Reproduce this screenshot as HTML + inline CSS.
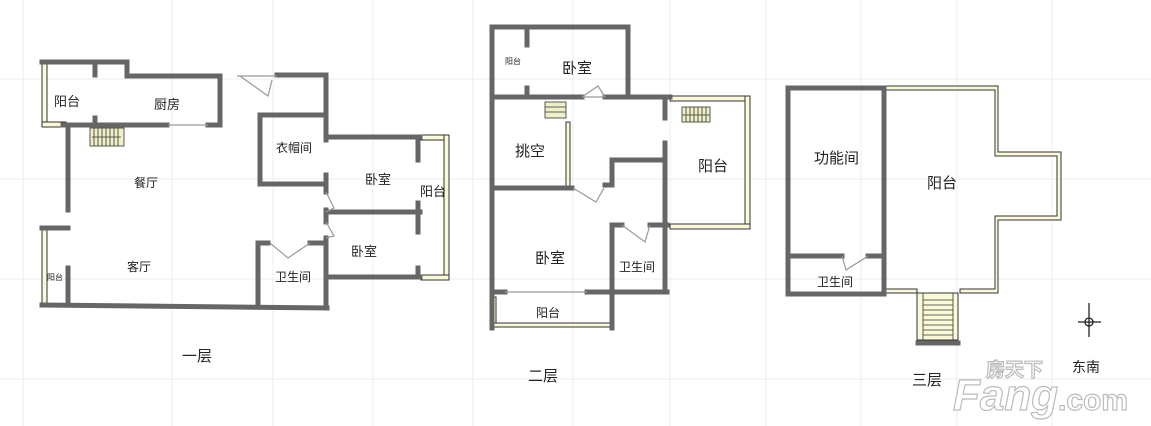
<!DOCTYPE html>
<html><head><meta charset="utf-8"><style>
html,body{margin:0;padding:0;background:#fff;}
svg{display:block;}
text{font-family:"Liberation Sans","Noto Sans CJK SC",sans-serif;fill:#222;}
</style></head><body>
<svg width="1151" height="426" viewBox="0 0 1151 426" xmlns="http://www.w3.org/2000/svg">
<g stroke="#ececec" stroke-width="1">
<line x1="23" y1="0" x2="23" y2="426"/><line x1="172" y1="0" x2="172" y2="426"/><line x1="273" y1="0" x2="273" y2="426"/><line x1="373" y1="0" x2="373" y2="426"/><line x1="473" y1="0" x2="473" y2="426"/><line x1="573" y1="0" x2="573" y2="426"/><line x1="670" y1="0" x2="670" y2="426"/><line x1="766" y1="0" x2="766" y2="426"/><line x1="861" y1="0" x2="861" y2="426"/><line x1="957" y1="0" x2="957" y2="426"/><line x1="1052" y1="0" x2="1052" y2="426"/>
<line x1="0" y1="79" x2="1151" y2="79"/><line x1="0" y1="179" x2="1151" y2="179"/><line x1="0" y1="279" x2="1151" y2="279"/><line x1="0" y1="379" x2="1151" y2="379"/>
</g>

<!-- FLOOR 1 -->
<g fill="#fafad8" stroke="#333" stroke-width="1">
<rect x="42" y="64" width="5" height="60"/><rect x="42" y="122" width="24" height="5"/>
<rect x="42" y="230" width="5" height="73"/>
<rect x="421" y="135" width="28" height="5"/><rect x="444" y="135" width="5" height="145"/><rect x="421" y="275" width="28" height="5"/>
</g>
<g fill="none" stroke="#666" stroke-width="5" stroke-linecap="square">
<polyline points="42,62 127,62 127,76 220,76 220,125"/>
<line x1="63" y1="125" x2="167" y2="125"/><line x1="208" y1="125" x2="220" y2="125"/>
<line x1="95" y1="62" x2="95" y2="75"/><line x1="95" y1="118" x2="95" y2="125"/>
<line x1="68" y1="125" x2="68" y2="210"/><line x1="68" y1="268" x2="68" y2="305"/>
<polyline points="42,228 68,228"/>
<polyline points="42,305 327,308"/>
<line x1="277" y1="75" x2="326" y2="75"/>
<line x1="326" y1="75" x2="326" y2="140"/>
<polyline points="326,115 260,115 260,184 326,184"/>
<line x1="326" y1="175" x2="326" y2="192"/>
<line x1="326" y1="210" x2="326" y2="222"/>
<line x1="326" y1="238" x2="326" y2="308"/>
<line x1="326" y1="137" x2="420" y2="137"/>
<line x1="326" y1="212" x2="420" y2="212"/>
<line x1="326" y1="277" x2="420" y2="277"/>
<line x1="418" y1="140" x2="418" y2="160"/><line x1="418" y1="203" x2="418" y2="232"/><line x1="418" y1="268" x2="418" y2="277"/>
<polyline points="258,305 258,243 268,243"/>
<line x1="310" y1="243" x2="326" y2="243"/>
</g>
<g stroke="#999" stroke-width="1.2" fill="none">
<line x1="237" y1="76" x2="277" y2="76"/><polyline points="240,76 268,96 272,80"/>
<line x1="168" y1="125" x2="208" y2="125"/>
<polyline points="270,243 288,258 310,243"/>
<polyline points="326,192 334,208 326,212"/><polyline points="326,222 334,236 326,238"/>
</g>
<g fill="#f0f0c8" stroke="#333" stroke-width="0.8"><rect x="90" y="128" width="34" height="18"/></g>
<g stroke="#333" stroke-width="0.8">
<line x1="94" y1="128" x2="94" y2="146"/><line x1="98" y1="128" x2="98" y2="146"/><line x1="102" y1="128" x2="102" y2="146"/><line x1="106" y1="128" x2="106" y2="146"/><line x1="110" y1="128" x2="110" y2="146"/><line x1="114" y1="128" x2="114" y2="146"/><line x1="118" y1="128" x2="118" y2="146"/><line x1="92" y1="137" x2="121" y2="137"/>
</g>
<g font-size="13">
<text x="54" y="106">阳台</text><text x="154" y="109">厨房</text><text x="276" y="152" font-size="12">衣帽间</text>
<text x="134" y="187" font-size="12">餐厅</text><text x="365" y="184">卧室</text><text x="420" y="196">阳台</text>
<text x="351" y="256">卧室</text><text x="127" y="271" font-size="12">客厅</text><text x="275" y="281" font-size="12">卫生间</text>
<text x="47" y="280" font-size="8">阳台</text>
<text x="182" y="361" font-size="15">一层</text>
</g>

<!-- FLOOR 2 -->
<g fill="#fafad8" stroke="#333" stroke-width="1">
<rect x="670" y="96" width="80" height="5"/><rect x="745" y="96" width="5" height="133"/><rect x="670" y="224" width="80" height="5"/>
<rect x="566" y="122" width="4" height="66"/>
<rect x="492" y="297" width="4" height="30"/><rect x="494" y="323" width="118" height="4"/>
</g>
<g fill="none" stroke="#666" stroke-width="5" stroke-linecap="square">
<polyline points="492,328 492,27 628,27 628,97"/>
<line x1="527" y1="27" x2="527" y2="45"/><line x1="527" y1="88" x2="527" y2="97"/>
<line x1="492" y1="97" x2="582" y2="97"/><line x1="605" y1="97" x2="670" y2="97"/>
<line x1="492" y1="188" x2="572" y2="188"/>
<polyline points="665,100 665,118"/><line x1="665" y1="143" x2="665" y2="228"/>
<polyline points="612,185 612,160 665,160"/>
<polyline points="605,185 612,185"/>
<polyline points="612,296 612,225 622,225"/><line x1="650" y1="225" x2="667" y2="225"/>
<line x1="665" y1="228" x2="665" y2="292"/>
<line x1="492" y1="292" x2="505" y2="292"/><line x1="587" y1="292" x2="667" y2="292"/>
<line x1="612" y1="292" x2="612" y2="328"/>
</g>
<g stroke="#999" stroke-width="1.2" fill="none">
<polyline points="582,97 598,86 605,97"/><line x1="605" y1="97" x2="582" y2="97"/>
<polyline points="573,188 596,202 604,188"/>
<polyline points="622,225 645,242 650,225"/>
<line x1="505" y1="292" x2="587" y2="292"/>
</g>
<g fill="#f0f0c8" stroke="#333" stroke-width="0.8"><rect x="545" y="102" width="21" height="16"/><rect x="682" y="107" width="28" height="15"/></g>
<g stroke="#333" stroke-width="0.8">
<line x1="545" y1="107" x2="566" y2="107"/><line x1="545" y1="112" x2="566" y2="112"/>
<line x1="686" y1="107" x2="686" y2="122"/><line x1="690" y1="107" x2="690" y2="122"/><line x1="694" y1="107" x2="694" y2="122"/><line x1="698" y1="107" x2="698" y2="122"/><line x1="702" y1="107" x2="702" y2="122"/><line x1="706" y1="107" x2="706" y2="122"/><line x1="682" y1="115" x2="710" y2="115"/>
</g>
<g font-size="15">
<text x="505" y="64" font-size="8">阳台</text><text x="562" y="73">卧室</text><text x="515" y="156">挑空</text>
<text x="698" y="171">阳台</text><text x="535" y="263">卧室</text><text x="619" y="271" font-size="12">卫生间</text>
<text x="536" y="317" font-size="12">阳台</text>
<text x="528" y="381" font-size="15" fill="#555">二层</text>
</g>

<!-- FLOOR 3 -->
<g fill="#fafad8" stroke="#333" stroke-width="1">
<polygon points="886,86 998,86 998,152 1061,152 1061,220 998,220 998,293 960,293 960,289 995,289 995,216 1057,216 1057,156 995,156 995,90 886,90"/>
<polygon points="886,289 917,289 917,293 886,293"/>
<rect x="917" y="293" width="41" height="47"/>
</g>
<g fill="none" stroke="#666" stroke-width="5" stroke-linecap="square">
<polyline points="884,88 788,88 788,294 884,294 884,88"/>
<line x1="788" y1="256" x2="842" y2="256"/><line x1="868" y1="256" x2="884" y2="256"/>
<line x1="918" y1="343" x2="958" y2="343"/>
</g>
<g stroke="#333" stroke-width="0.8">
<line x1="923" y1="300" x2="953" y2="300"/><line x1="923" y1="305" x2="953" y2="305"/><line x1="923" y1="310" x2="953" y2="310"/><line x1="923" y1="315" x2="953" y2="315"/><line x1="923" y1="320" x2="953" y2="320"/><line x1="923" y1="325" x2="953" y2="325"/><line x1="923" y1="330" x2="953" y2="330"/><line x1="923" y1="335" x2="953" y2="335"/>
<line x1="923" y1="293" x2="923" y2="340"/><line x1="953" y1="293" x2="953" y2="340"/>
</g>
<g stroke="#999" stroke-width="1.2" fill="none"><polyline points="842,256 846,270 868,256"/></g>
<g font-size="15">
<text x="814" y="163">功能间</text><text x="927" y="188">阳台</text><text x="817" y="286" font-size="12">卫生间</text>
<text x="912" y="385">三层</text>
<text x="1072" y="372" font-size="14" fill="#555">东南</text>
</g>
<g stroke="#222" stroke-width="1.3" fill="none">
<line x1="1089" y1="303" x2="1089" y2="337"/><line x1="1078" y1="322" x2="1101" y2="322"/><circle cx="1089" cy="322" r="4"/>
</g>
<g font-family="Liberation Sans, sans-serif" font-weight="bold" fill="#fff" stroke="#bbb" stroke-width="1.2">
<text x="953" y="410" font-size="44" font-style="italic" style="fill:#fff">Fang</text>
<text x="1058" y="410" font-size="30" style="fill:#fff">.com</text>
<text x="986" y="376" font-size="19" style="fill:#fff" font-family="Noto Sans CJK SC, sans-serif">房天下</text>
</g>
</svg>
</body></html>
